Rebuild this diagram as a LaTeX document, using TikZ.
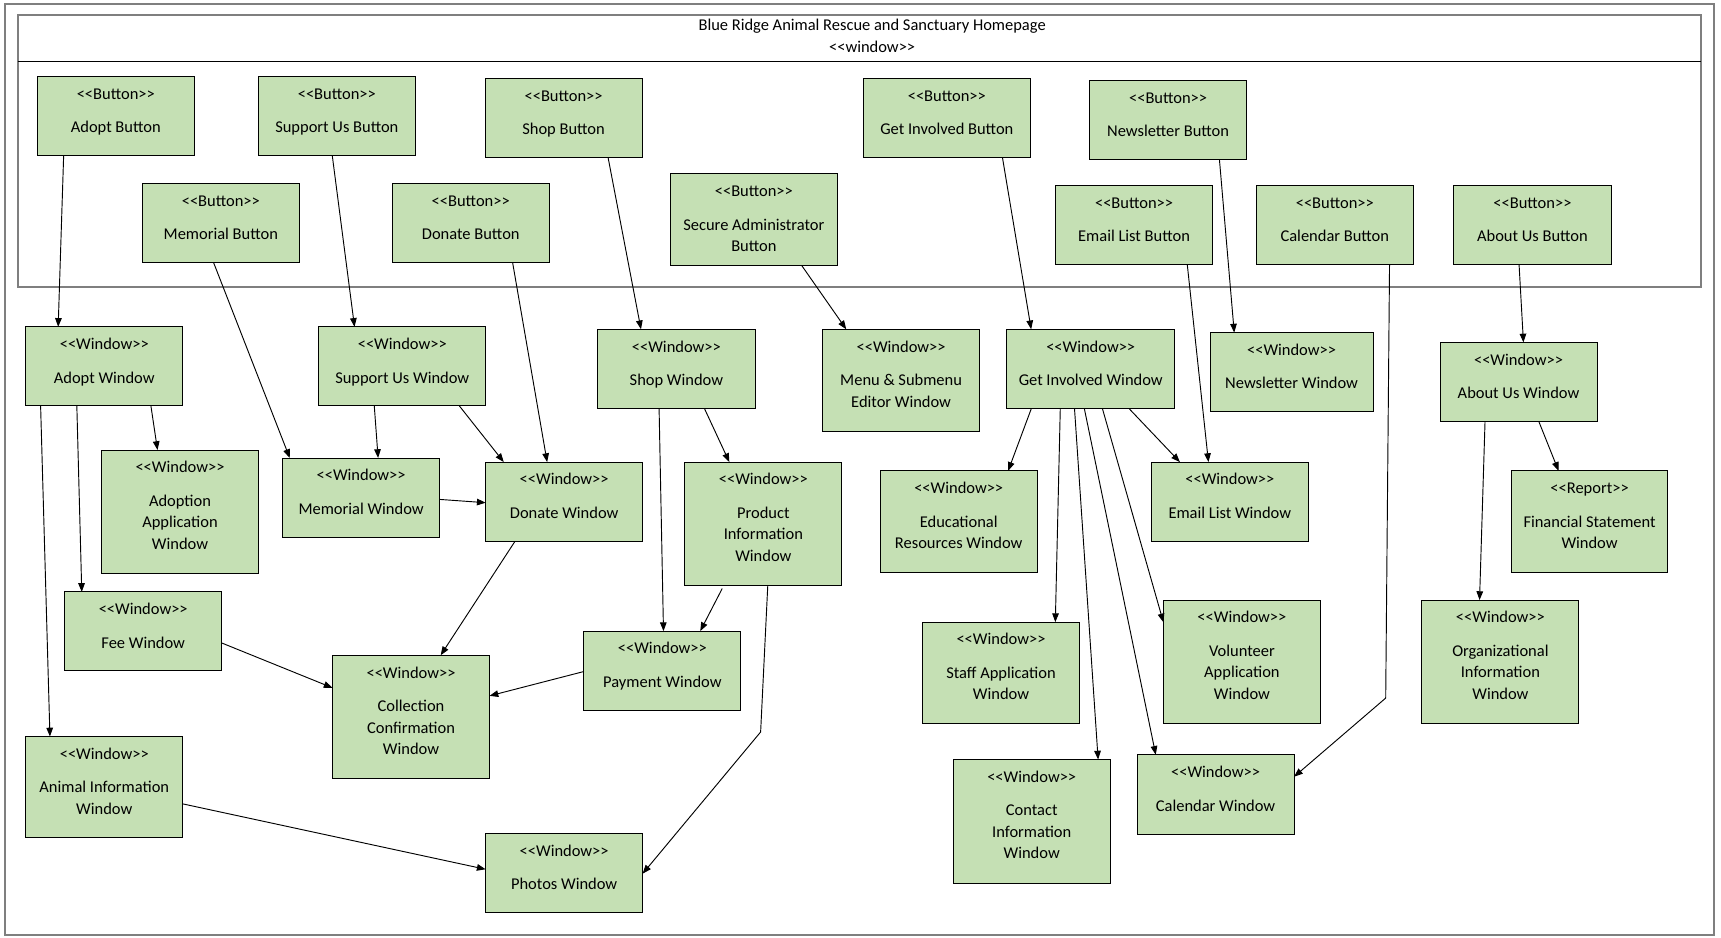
\documentclass[tikz,border=0pt]{standalone}
\usepackage{fontspec}
\setmainfont{Carlito}
\usetikzlibrary{calc,arrows.meta}
\newcommand\stL{<\kern0pt<}
\newcommand\stR{>\kern0pt>}
\definecolor{boxgreen}{HTML}{C5E0B4}
\definecolor{framegray}{HTML}{7F7F7F}
\tikzset{
  ubox/.style={draw=black, line width=0.9pt, fill=boxgreen, rectangle, inner sep=0pt, outer sep=0pt},
  utext/.style={align=center, inner sep=0pt, outer sep=0pt, font=\fontsize{15}{19.5}\selectfont},
  conn/.style={draw=black, line width=0.85pt, -{Triangle[length=8pt,width=6pt]}},
  frame/.style={draw=framegray, line width=1.8pt},
}
\newcommand\umlbox[7]{%
  \node[ubox, minimum width=#4pt, minimum height=#5pt, anchor=north west] (#1) at (#2,#3) {};
  \node[utext, anchor=north] (#1-t) at ($(#1.north)+(0,7.2)$) {\strut\stL #6\stR\\[11pt]#7};
}
\begin{document}
\begin{tikzpicture}[x=1pt,y=-1pt]
\useasboundingbox (0,0) rectangle (1568,853.7);
% frames
\node[frame, rectangle, inner sep=0pt, outer sep=0pt, minimum width=1557.5pt, minimum height=848.7pt, anchor=north west] (outer) at (4.5,3.3) {};
\node[frame, rectangle, inner sep=0pt, outer sep=0pt, minimum width=1533.7pt, minimum height=248.4pt, anchor=north west] (home) at (16,13.4) {};
\draw[black, line width=1pt] ($(home.north west)+(0,42.8)$) -- ($(home.north east)+(0,42.8)$);
\node[utext, anchor=north] (title) at (794.6,14.5) {\strut Blue Ridge Animal Rescue and Sanctuary Homepage\\\stL window\stR};
% buttons
\umlbox{ab}{34}{69.5}{143}{72}{Button}{Adopt Button}
\umlbox{sb}{235.4}{69.5}{143}{72}{Button}{Support Us Button}
\umlbox{shb}{442}{71.4}{143}{72}{Button}{Shop Button}
\umlbox{gb}{786.4}{71.4}{152.5}{72}{Button}{Get Involved Button}
\umlbox{nb}{992.5}{73.2}{143.5}{72}{Button}{Newsletter Button}
\umlbox{mb}{129.7}{167}{143}{72}{Button}{Memorial Button}
\umlbox{db}{357.4}{167}{143}{72}{Button}{Donate Button}
\umlbox{sab}{610.7}{158.5}{152.3}{83.5}{Button}{Secure Administrator\\Button}
\umlbox{eb}{961.5}{168.9}{143.5}{72}{Button}{Email List Button}
\umlbox{cb}{1144.5}{168.9}{143.3}{72}{Button}{Calendar Button}
\umlbox{aub}{1324.6}{168.9}{143.2}{72}{Button}{About Us Button}
% windows
\umlbox{aw}{23.5}{297.8}{143}{72}{Window}{Adopt Window}
\umlbox{suw}{290.5}{297.8}{152}{72}{Window}{Support Us Window}
\umlbox{shw}{544.5}{300}{143.5}{72.6}{Window}{Shop Window}
\umlbox{mew}{749.5}{300}{143}{92.7}{Window}{Menu \& Submenu\\Editor Window}
\umlbox{giw}{917}{300}{153.5}{72.6}{Window}{Get Involved Window}
\umlbox{nw}{1102.5}{303}{148.5}{72}{Window}{Newsletter Window}
\umlbox{auw}{1312}{312}{143}{72}{Window}{About Us Window}
\umlbox{aaw}{92.5}{410}{143}{112.5}{Window}{Adoption\\Application\\Window}
\umlbox{mw}{257.5}{417.3}{143}{72}{Window}{Memorial Window}
\umlbox{dw}{442.5}{421}{143}{72.5}{Window}{Donate Window}
\umlbox{piw}{624}{421}{143}{112.7}{Window}{Product\\Information\\Window}
\umlbox{erw}{802}{429}{143}{92.8}{Window}{Educational\\Resources Window}
\umlbox{elw}{1049}{421}{143}{72.5}{Window}{Email List Window}
\umlbox{fsw}{1377}{429}{142.5}{92.8}{Report}{Financial Statement\\Window}
\umlbox{fw}{59}{539.3}{143}{72}{Window}{Fee Window}
\umlbox{ccw}{303}{597}{143}{112.3}{Window}{Collection\\Confirmation\\Window}
\umlbox{pw}{532}{575}{143}{72.2}{Window}{Payment Window}
\umlbox{saw}{840.5}{566.8}{143}{92.2}{Window}{Staff Application\\Window}
\umlbox{vaw}{1060}{546.7}{143}{112.3}{Window}{Volunteer\\Application\\Window}
\umlbox{oiw}{1295.5}{546.7}{143}{112.3}{Window}{Organizational\\Information\\Window}
\umlbox{aiw}{23.5}{671}{143}{92.2}{Window}{Animal Information\\Window}
\umlbox{phw}{442.5}{759.2}{143}{72}{Window}{Photos Window}
\umlbox{ciw}{868.5}{692}{143}{112.5}{Window}{Contact\\Information\\Window}
\umlbox{calw}{1036}{687.7}{143}{72.3}{Window}{Calendar Window}
% bend points
\coordinate (cbend) at (1262.5,636);
\coordinate (pbend) at (693,666.9);
% connectors from buttons
\draw[conn] ($(ab.south west)+(24,0)$) -- ($(aw.north west)+(29.5,0)$);
\draw[conn] ($(sb.south west)+(67.3,0)$) -- ($(suw.north west)+(32.5,0)$);
\draw[conn] ($(shb.south west)+(112,0)$) -- ($(shw.north west)+(39.5,0)$);
\draw[conn] ($(mb.south west)+(64.8,0)$) -- ($(mw.north west)+(6.5,0)$);
\draw[conn] ($(db.south west)+(109.6,0)$) -- ($(dw.north west)+(56,0)$);
\draw[conn] ($(sab.south west)+(119.8,0)$) -- ($(mew.north west)+(21.5,0)$);
\draw[conn] ($(gb.south west)+(126.9,0)$) -- ($(giw.north west)+(22.5,0)$);
\draw[conn] ($(nb.south west)+(118.5,0)$) -- ($(nw.north west)+(22,0)$);
\draw[conn] ($(eb.south west)+(120.2,0)$) -- ($(elw.north west)+(52,0)$);
\draw[conn] ($(cb.south west)+(121.5,0)$) -- (cbend) -- ($(calw.north east)+(0,20)$);
\draw[conn] ($(aub.south west)+(59.4,0)$) -- ($(auw.north west)+(76,0)$);
% adopt window
\draw[conn] ($(aw.south west)+(114,0)$) -- ($(aaw.north west)+(51,0)$);
\draw[conn] ($(aw.south west)+(46.5,0)$) -- ($(fw.north west)+(15.5,0)$);
\draw[conn] ($(aw.south west)+(13.5,0)$) -- ($(aiw.north west)+(22,0)$);
% support us window
\draw[conn] ($(suw.south west)+(50.5,0)$) -- ($(mw.north west)+(87,0)$);
\draw[conn] ($(suw.south west)+(128,0)$) -- ($(dw.north west)+(16.5,0)$);
\draw[conn] ($(mw.north east)+(0,37.7)$) -- ($(dw.north west)+(0,37)$);
% shop window
\draw[conn] ($(shw.south west)+(56,0)$) -- ($(pw.north west)+(72.5,0)$);
\draw[conn] ($(shw.south west)+(97.5,0)$) -- ($(piw.north west)+(40.5,0)$);
\draw[conn] ($(piw.south west)+(34,2.5)$) -- ($(pw.north west)+(106,0)$);
\draw[conn] ($(piw.south west)+(75.5,0)$) -- (pbend) -- ($(phw.north east)+(0,36.8)$);
% collection / photos
\draw[conn] ($(dw.south west)+(26.5,0)$) -- ($(ccw.north west)+(98.5,0)$);
\draw[conn] ($(fw.north east)+(0,46.5)$) -- ($(ccw.north west)+(0,29.7)$);
\draw[conn] ($(pw.north west)+(0,36.8)$) -- ($(ccw.north east)+(0,37)$);
\draw[conn] ($(aiw.north east)+(0,61.4)$) -- ($(phw.north west)+(0,32.8)$);
% get involved window
\draw[conn] ($(giw.south west)+(22.5,0)$) -- ($(erw.north west)+(116.5,0)$);
\draw[conn] ($(giw.south west)+(49,0)$) -- ($(saw.north west)+(121,0)$);
\draw[conn] ($(giw.south west)+(62,0)$) -- ($(ciw.north west)+(132,0)$);
\draw[conn] ($(giw.south west)+(71,0)$) -- ($(calw.north west)+(17,0)$);
\draw[conn] ($(giw.south west)+(87.5,0)$) -- ($(vaw.north west)+(0,20.3)$);
\draw[conn] ($(giw.south west)+(112,0)$) -- ($(elw.north west)+(26,0)$);
% about us window
\draw[conn] ($(auw.south west)+(90,0)$) -- ($(fsw.north west)+(43,0)$);
\draw[conn] ($(auw.south west)+(41,0)$) -- ($(oiw.north west)+(52.5,0)$);
\end{tikzpicture}
\end{document}
